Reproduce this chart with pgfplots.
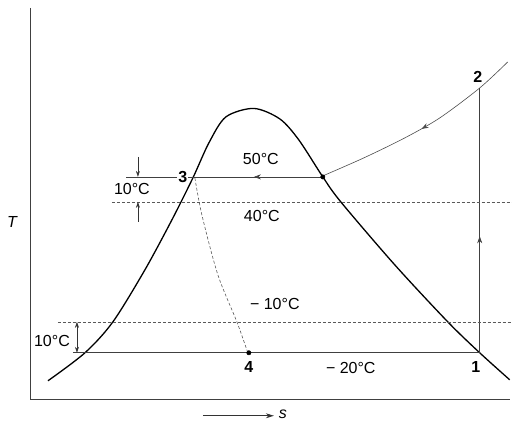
\documentclass[border=0pt]{standalone}
\usepackage{pgfplots}
\pgfplotsset{compat=1.18}
\usepackage{fontspec}
\setmainfont{Liberation Sans}
\usetikzlibrary{decorations.markings,arrows.meta}
\begin{document}
\begin{tikzpicture}[
  midarrow/.style={postaction={decorate},decoration={markings,mark=at position #1 with {\arrow{Stealth[length=7pt,width=5pt]}}}},
  lbl/.style={font=\fontsize{16}{19}\selectfont, inner sep=1pt},
  num/.style={font=\fontsize{16}{19}\selectfont\bfseries, inner sep=1pt}
]
\begin{axis}[
  axis lines=none,
  scale only axis, width=480pt, height=392pt,
  xmin=30, xmax=510, ymin=24, ymax=416,
  clip=false,
]
\path (axis cs:0,0) rectangle (axis cs:512,424);
% frame
\addplot[black!75, line width=0.8pt] coordinates {(30,416) (30,24) (510,24)};
% dome
\addplot[black, line width=1.3pt, smooth] coordinates {
(48,43) (85,71) (113,102) (145,154) (172,204) (193,246) (209,281)
(226,307) (254,315.5) (280,305) (299,284) (323,247) (341,222) (395,159)
(448,102) (480,71) (510,44)};
% superheat curve 2 -> saturated vapour
\addplot[black!70, line width=0.6pt, smooth, midarrow=0.5] coordinates {
(508,362) (480,336) (440,306) (405,286) (364,266) (323,248)};
% condensing line
\addplot[black!75, line width=0.6pt, midarrow=0.35] coordinates {(323,247) (126,247)};
% evaporating line
\addplot[black!75, line width=0.6pt] coordinates {(73,71) (480,71)};
% compression 1 -> 2
\addplot[black!75, line width=0.6pt, midarrow=0.44] coordinates {(480,71) (480,336)};
% dashed lines
\addplot[black!65, line width=0.6pt, dash pattern=on 3pt off 2pt] coordinates {(112,222) (512,222)};
\addplot[black!65, line width=0.6pt, dash pattern=on 3pt off 2pt] coordinates {(58,102) (512,102)};
% throttling 3 -> 4
\addplot[black!65, line width=0.6pt, dash pattern=on 3pt off 2pt, smooth] coordinates {
(195,246) (202,209) (218,149) (237,102) (248,71)};
% dots
\addplot[only marks, mark=*, mark size=2.2pt, black] coordinates {(323,247) (249,71)};
% dimension arrows
\addplot[black!80, line width=0.6pt, -{Stealth[length=6pt,width=4pt]}] coordinates {(138,267) (138,247)};
\addplot[black!80, line width=0.6pt, -{Stealth[length=6pt,width=4pt]}] coordinates {(138,202) (138,222)};
\addplot[black!80, line width=0.6pt, {Stealth[length=6pt,width=4pt]}-{Stealth[length=6pt,width=4pt]}] coordinates {(77,102) (77,71)};
% s arrow
\addplot[black!80, line width=0.8pt, -{Stealth[length=8pt,width=5pt]}] coordinates {(203,8) (274,8)};
% labels
\node[num, fill=white] at (axis cs:183,247) {3};
\node[num] at (axis cs:478,347) {2};
\node[num] at (axis cs:476,57) {1};
\node[num] at (axis cs:249,57) {4};
\node[lbl] at (axis cs:261,265) {50°C};
\node[lbl] at (axis cs:262,208) {40°C};
\node[lbl] at (axis cs:275,120) {− 10°C};
\node[lbl] at (axis cs:351,56) {− 20°C};
\node[lbl] at (axis cs:132,235) {10°C};
\node[lbl] at (axis cs:52,83) {10°C};
\node[lbl] at (axis cs:12,202) {\itshape T};
\node[lbl] at (axis cs:283,9) {\itshape s};
\end{axis}
\end{tikzpicture}
\end{document}
